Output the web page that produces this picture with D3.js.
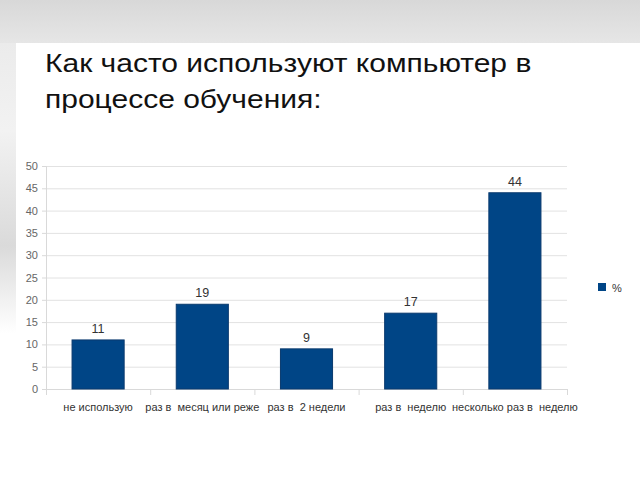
<!DOCTYPE html>
<html>
<head>
<meta charset="utf-8">
<script src="https://cdn.jsdelivr.net/npm/d3@7"></script>
<style>
  body { margin: 0; background: #fff; }
  svg { display: block; font-family: "Liberation Sans", Arial, sans-serif; }
</style>
</head>
<body>
<svg width="640" height="480"></svg>
<script>
var categories = ["не использую", "раз в  месяц или реже", "раз в  2 недели", "раз в  неделю", "несколько раз в  неделю"];
var values = [11, 19, 9, 17, 44];
var yTicks = [0, 5, 10, 15, 20, 25, 30, 35, 40, 45, 50];
var seriesName = "%";
var titleLines = ["Как часто используют компьютер в", "процессе обучения:"];

var svg = d3.select("svg"),
    margin = {left: 46, right: 73, top: 166, bottom: 91},
    width = svg.attr("width") - margin.left - margin.right,
    height = svg.attr("height") - margin.top - margin.bottom;

// slide background
var defs = svg.append("defs");
var topGrad = defs.append("linearGradient").attr("id", "topg")
    .attr("x1", 0).attr("y1", 0).attr("x2", 0).attr("y2", 1);
topGrad.append("stop").attr("offset", "0%").attr("stop-color", "#d8d8d8");
topGrad.append("stop").attr("offset", "100%").attr("stop-color", "#e6e6e6");
var leftGrad = defs.append("linearGradient").attr("id", "leftg")
    .attr("x1", 0).attr("y1", 0).attr("x2", 0).attr("y2", 1);
leftGrad.append("stop").attr("offset", "0%").attr("stop-color", "#ebebeb");
leftGrad.append("stop").attr("offset", "30%").attr("stop-color", "#f2f2f2");
leftGrad.append("stop").attr("offset", "70%").attr("stop-color", "#dadada");
leftGrad.append("stop").attr("offset", "100%").attr("stop-color", "#ffffff");

svg.append("rect").attr("x", 0).attr("y", 0).attr("width", 640).attr("height", 43)
    .attr("fill", "url(#topg)");
svg.append("rect").attr("x", 0).attr("y", 43).attr("width", 16).attr("height", 290)
    .attr("fill", "url(#leftg)");

// title (slightly stretched horizontally, like the slide)
svg.append("g").selectAll("text")
    .data(titleLines)
    .enter().append("text")
    .attr("transform", function(d, i) { return `translate(45,${72 + i * 36}) scale(1.2,1)`; })
    .attr("font-size", 25)
    .attr("fill", "#111")
    .text(function(d) { return d; });

var g = svg.append("g")
    .attr("transform", `translate(${margin.left},${margin.top})`);

var xScale = d3.scaleBand()
    .domain(categories)
    .range([0, width])
    .paddingInner(0.5)
    .paddingOuter(0.25);

var yScale = d3.scaleLinear()
    .domain([0, 50])
    .range([height, 0]);

// gridlines
g.append("g").selectAll("line")
    .data(yTicks)
    .enter().append("line")
    .attr("x1", 0).attr("x2", width)
    .attr("y1", function(d) { return yScale(d) + 0.5; })
    .attr("y2", function(d) { return yScale(d) + 0.5; })
    .attr("stroke", "#e2e2e2");

// y axis
var yAxis = g.append("g")
    .attr("class", "y axis")
    .call(d3.axisLeft(yScale).tickValues(yTicks).tickSize(4).tickPadding(4));
yAxis.select(".domain").attr("stroke", "#d9d9d9");
yAxis.selectAll(".tick line").attr("stroke", "#d9d9d9");
yAxis.selectAll("text").attr("fill", "#666").attr("font-size", 11)
    .attr("font-family", "Liberation Sans, Arial, sans-serif");

// x axis with ticks on band boundaries
var xAxis = g.append("g")
    .attr("class", "x axis")
    .attr("transform", `translate(0, ${height})`);
xAxis.append("line").attr("x1", 0).attr("x2", width)
    .attr("y1", 0.5).attr("y2", 0.5).attr("stroke", "#d9d9d9");
xAxis.selectAll(".sep")
    .data(d3.range(categories.length + 1))
    .enter().append("line")
    .attr("class", "sep")
    .attr("x1", function(i) { return width * i / categories.length + 0.5; })
    .attr("x2", function(i) { return width * i / categories.length + 0.5; })
    .attr("y1", 0).attr("y2", 6)
    .attr("stroke", "#d9d9d9");
xAxis.selectAll(".lbl")
    .data(categories)
    .enter().append("text")
    .attr("class", "lbl")
    .attr("x", function(d) { return xScale(d) + xScale.bandwidth() / 2; })
    .attr("y", 22)
    .attr("text-anchor", "middle")
    .attr("font-size", 11)
    .attr("fill", "#333")
    .style("white-space", "pre")
    .text(function(d) { return d; });

// bars
g.selectAll(".bar")
    .data(values)
    .enter().append("rect")
    .attr("class", "bar")
    .attr("x", function(d, i) { return xScale(categories[i]); })
    .attr("width", xScale.bandwidth())
    .attr("y", function(d) { return yScale(d); })
    .attr("height", function(d) { return height - yScale(d); })
    .attr("fill", "#004586")
    .attr("stroke", "#0a3a6e")
    .attr("stroke-width", 1);

// value labels
g.selectAll(".val")
    .data(values)
    .enter().append("text")
    .attr("class", "val")
    .attr("x", function(d, i) { return xScale(categories[i]) + xScale.bandwidth() / 2; })
    .attr("y", function(d) { return yScale(d) - 7; })
    .attr("text-anchor", "middle")
    .attr("font-size", 12.5)
    .attr("fill", "#333")
    .text(function(d) { return d; });

// legend
var legend = svg.append("g").attr("transform", "translate(598,283)");
legend.append("rect").attr("width", 8).attr("height", 8).attr("fill", "#004586");
legend.append("text").attr("x", 14).attr("y", 9)
    .attr("font-size", 11).attr("fill", "#333").text(seriesName);
</script>
</body>
</html>
